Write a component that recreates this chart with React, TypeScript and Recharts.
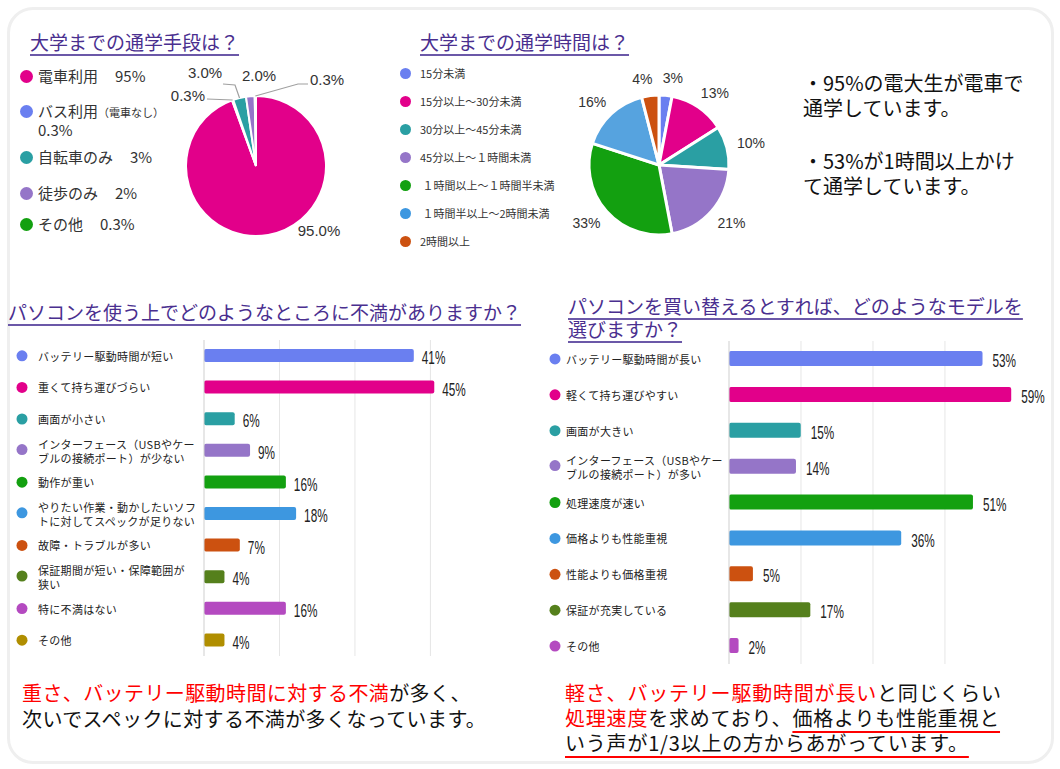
import React from "react";
import {
  PieChart,
  Pie,
  Cell,
  BarChart,
  Bar,
  XAxis,
  YAxis,
  CartesianGrid,
  LabelList,
} from "recharts";

const JP = '"Noto Sans CJK JP", "Noto Sans", sans-serif';
const NUM = '"Liberation Sans", Arial, "Noto Sans CJK JP", sans-serif';

const BLUE = "#6a7ff0";
const MAGENTA = "#e2008a";
const TEAL = "#2a9fa3";
const PURPLE = "#9575c8";
const GREEN = "#13a010";
const SKY = "#3d97e0";
const ORANGE = "#cc5110";
const OLIVE = "#55801c";
const VIOLET = "#b44ac0";
const GOLD = "#b08e00";

// 通学手段
const modeNames = ["電車利用", "バス利用", "自転車のみ", "徒歩のみ", "その他"];
const modeShares = [95, 0.3, 3, 2, 0.3];
const modeLegendValues = ["95%", "0.3%", "3%", "2%", "0.3%"];
const modeColors = [MAGENTA, BLUE, TEAL, PURPLE, GREEN];

// 通学時間
const timeNames = [
  "15分未満",
  "15分以上～30分未満",
  "30分以上～45分未満",
  "45分以上～１時間未満",
  " １時間以上～１時間半未満",
  " １時間半以上～2時間未満",
  "2時間以上",
];
const timeShares = [3, 13, 10, 21, 33, 16, 4];
const timeColors = [BLUE, MAGENTA, TEAL, PURPLE, GREEN, "#56a3df", ORANGE];
const timeDotColors = [BLUE, MAGENTA, TEAL, PURPLE, GREEN, SKY, ORANGE];

// 不満
const complaintNames = [
  "バッテリー駆動時間が短い",
  "重くて持ち運びづらい",
  "画面が小さい",
  "インターフェース（USBやケー\nブルの接続ポート）が少ない",
  "動作が重い",
  "やりたい作業・動かしたいソフ\nトに対してスペックが足りない",
  "故障・トラブルが多い",
  "保証期間が短い・保障範囲が\n狭い",
  "特に不満はない",
  "その他",
];
const complaintShares = [41, 45, 6, 9, 16, 18, 7, 4, 16, 4];
const complaintColors = [BLUE, MAGENTA, TEAL, PURPLE, GREEN, SKY, ORANGE, OLIVE, VIOLET, GOLD];
const complaintGrid = [14.75, 29.5, 44.25];

// 買い替えモデル
const wishNames = [
  "バッテリー駆動時間が長い",
  "軽くて持ち運びやすい",
  "画面が大きい",
  "インターフェース（USBやケー\nブルの接続ポート）が多い",
  "処理速度が速い",
  "価格よりも性能重視",
  "性能よりも価格重視",
  "保証が充実している",
  "その他",
];
const wishShares = [53, 59, 15, 14, 51, 36, 5, 17, 2];
const wishColors = [BLUE, MAGENTA, TEAL, PURPLE, GREEN, SKY, ORANGE, OLIVE, VIOLET];
const wishGrid = [15.05, 30.1, 45.15];

const modeData = modeNames.map((name, i) => ({ name, value: modeShares[i] }));
const timeData = timeNames.map((name, i) => ({ name, value: timeShares[i] }));
const complaintData = complaintNames.map((name, i) => ({ name, value: complaintShares[i] }));
const wishData = wishNames.map((name, i) => ({ name, value: wishShares[i] }));

const RAD = Math.PI / 180;
const NO_MARGIN = { top: 0, right: 0, bottom: 0, left: 0 };

// only draw grid lines at the given values (no line at the plot's right edge)
const gridAt = (values: number[]) => (props: any) => {
  const scale = props?.xAxis?.scale;
  if (!scale) return [];
  const f = typeof scale === "function" ? scale : (v: number) => scale.map(v);
  return values.map((v) => f(v));
};

// label spots for the commute-mode pie, relative to the pie centre
const modeLabelSpots: any[] = [
  { tx: 63, ty: 64, anchor: "middle", path: null },
  { tx: -51, ty: -71, anchor: "end", path: [[-49, -67]] },
  { tx: -51, ty: -94, anchor: "middle", path: [[-21, -81], [-33, -82]] },
  { tx: 3, ty: -91, anchor: "middle", path: null },
  { tx: 54, ty: -87, anchor: "start", path: [[42, -82], [52, -82]] },
];

const renderModeLabel = (p: any) => {
  const { cx, cy, midAngle, outerRadius, index, value } = p;
  const spot = modeLabelSpots[index];
  const a = -midAngle * RAD;
  const ex = cx + outerRadius * Math.cos(a);
  const ey = cy + outerRadius * Math.sin(a);
  return (
    <g key={`ml-${index}`}>
      {spot.path && (
        <polyline
          points={[[ex - cx, ey - cy], ...spot.path].map(([x, y]: number[]) => `${cx + x},${cy + y}`).join(" ")}
          fill="none"
          stroke="#a0a0a0"
          strokeWidth={1.2}
        />
      )}
      <text
        x={cx + spot.tx}
        y={cy + spot.ty}
        textAnchor={spot.anchor}
        dominantBaseline="central"
        fontFamily={NUM}
        fontSize={15}
        fill="#333"
      >
        {value.toFixed(1)}%
      </text>
    </g>
  );
};

const renderTimeLabel = (p: any) => {
  const { cx, cy, midAngle, outerRadius, index, value } = p;
  const a = -midAngle * RAD;
  const c = Math.cos(a);
  const s = Math.sin(a);
  const text = `${value}%`;
  const w = text.length * 8.5;
  const h = 10;
  const r = outerRadius + 12;
  const x = cx + r * c + (c * w) / 2 + Math.sign(c) * 6 * (1 - Math.abs(c));
  const y = cy + r * s + (s * h) / 2;
  return (
    <text
      key={`tl-${index}`}
      x={x}
      y={y}
      textAnchor="middle"
      dominantBaseline="central"
      fontFamily={NUM}
      fontSize={14}
      fill="#333"
    >
      {text}
    </text>
  );
};

const makeTick = (names: string[], colors: string[], dotX: number, textX: number) => (props: any) => {
  const { y, payload } = props;
  const idx = names.indexOf(payload.value);
  const lines = String(payload.value).split("\n");
  const two = lines.length > 1;
  return (
    <g>
      <circle cx={dotX} cy={two ? y - 1 : y} r={5.5} fill={colors[idx]} />
      {lines.map((ln, i) => (
        <text
          key={i}
          x={textX}
          y={two ? y - 7 + i * 14 : y}
          dominantBaseline="central"
          fontFamily={JP}
          fontSize={11}
          letterSpacing={0.3}
          fill="#222"
        >
          {ln}
        </text>
      ))}
    </g>
  );
};

// narrow, tall percentage labels
const valueLabel = (gap: number) => (props: any) => {
  const { x, y, width, height, value } = props;
  return (
    <text
      transform={`translate(${x + width + gap},${y + height / 2 + 2}) scale(0.62,1)`}
      dominantBaseline="central"
      fontFamily={NUM}
      fontSize={19}
      fill="#222"
    >
      {value}%
    </text>
  );
};

const titleStyle: React.CSSProperties = {
  position: "absolute",
  fontFamily: JP,
  fontSize: 19,
  lineHeight: "23px",
  color: "#4a2f8f",
  textDecoration: "underline",
  textDecorationColor: "#6b58a8",
  textDecorationThickness: "1.5px",
  textUnderlineOffset: "4px",
  whiteSpace: "nowrap",
};

const abs = (left: number, top: number): React.CSSProperties => ({ position: "absolute", left, top });

const Dot = ({ x, y, size, color }: { x: number; y: number; size: number; color: string }) => (
  <div
    style={{
      position: "absolute",
      left: x - size / 2,
      top: y - size / 2,
      width: size,
      height: size,
      borderRadius: "50%",
      background: color,
    }}
  />
);

const RED = "#ff0000";
const redLine: React.CSSProperties = {
  textDecoration: "underline",
  textDecorationColor: RED,
  textDecorationThickness: "2px",
  textUnderlineOffset: "5px",
};

const modeLegendY = [76, 111, 157, 193, 224];
const legendText: React.CSSProperties = {
  fontFamily: JP,
  fontSize: 15,
  lineHeight: "16px",
  color: "#333",
  whiteSpace: "nowrap",
};

export default function App() {
  return (
    <div style={{ position: "absolute", left: 0, top: 0, width: 1060, height: 769, background: "#fff", overflow: "hidden" }}>
      <div
        style={{
          position: "absolute",
          left: 7,
          top: 7,
          width: 1047,
          height: 757,
          border: "3px solid #efefef",
          borderRadius: 26,
          boxSizing: "border-box",
        }}
      />

      {/* 通学手段 */}
      <div style={{ ...titleStyle, left: 30, top: 30 }}>大学までの通学手段は？</div>
      {modeNames.map((n, i) => (
        <React.Fragment key={n}>
          <Dot x={26} y={modeLegendY[i]} size={13} color={modeColors[i]} />
          {i === 1 ? (
            <>
              <div style={{ ...abs(38, modeLegendY[i] - 8), ...legendText }}>
                {n}
                <span style={{ fontSize: 11 }}>（電車なし）</span>
              </div>
              <div style={{ ...abs(38, 130 - 8), ...legendText }}>{modeLegendValues[i]}</div>
            </>
          ) : (
            <div style={{ ...abs(38, modeLegendY[i] - 8), ...legendText }}>
              {n}
              <span style={{ marginLeft: 17 }}>{modeLegendValues[i]}</span>
            </div>
          )}
        </React.Fragment>
      ))}
      <div style={abs(150, 60)}>
        <PieChart width={230} height={210} margin={NO_MARGIN}>
          <Pie
            data={modeData}
            dataKey="value"
            cx={106}
            cy={106}
            outerRadius={70}
            startAngle={90}
            endAngle={-270}
            stroke="#fff"
            strokeWidth={2}
            label={renderModeLabel}
            labelLine={false}
            isAnimationActive={false}
          >
            {modeData.map((d, i) => (
              <Cell key={d.name} fill={modeColors[i]} />
            ))}
          </Pie>
        </PieChart>
      </div>

      {/* 通学時間 */}
      <div style={{ ...titleStyle, left: 420, top: 30 }}>大学までの通学時間は？</div>
      {timeNames.map((n, i) => (
        <React.Fragment key={n}>
          <Dot x={405} y={73 + 28 * i} size={11} color={timeDotColors[i]} />
          <div style={{ ...abs(420, 73 + 28 * i - 8), fontFamily: JP, fontSize: 11, lineHeight: "16px", color: "#333", whiteSpace: "pre" }}>
            {n}
          </div>
        </React.Fragment>
      ))}
      <div style={abs(549, 55)}>
        <PieChart width={230} height={220} margin={NO_MARGIN}>
          <Pie
            data={timeData}
            dataKey="value"
            cx={110}
            cy={110}
            outerRadius={70}
            startAngle={90}
            endAngle={-270}
            stroke="#fff"
            strokeWidth={3}
            label={renderTimeLabel}
            labelLine={false}
            isAnimationActive={false}
          >
            {timeData.map((d, i) => (
              <Cell key={d.name} fill={timeColors[i]} />
            ))}
          </Pie>
        </PieChart>
      </div>

      {/* まとめ（右上） */}
      <div style={{ ...abs(803, 70), fontFamily: JP, fontSize: 20, lineHeight: "25px", color: "#111", whiteSpace: "nowrap" }}>
        ・95%の電大生が電車で
        <br />
        通学しています。
      </div>
      <div style={{ ...abs(803, 148), fontFamily: JP, fontSize: 20, lineHeight: "25px", color: "#111", whiteSpace: "nowrap" }}>
        ・53%が1時間以上かけ
        <br />
        て通学しています。
      </div>

      {/* 不満 */}
      <div style={{ ...titleStyle, left: 8, top: 300 }}>パソコンを使う上でどのようなところに不満がありますか？</div>
      <div style={abs(8, 336)}>
        <BarChart
          width={520}
          height={324}
          data={complaintData}
          layout="vertical"
          margin={{ top: 4, right: 40, bottom: 4, left: 0 }}
        >
          <CartesianGrid
            horizontal={false}
            stroke="#e6e6e6"
            verticalCoordinatesGenerator={gridAt(complaintGrid)}
          />
          <XAxis
            type="number"
            domain={[0, 55.5]}
            ticks={complaintGrid}
            allowDataOverflow
            tick={false}
            axisLine={false}
            tickLine={false}
            height={0}
          />
          <YAxis
            type="category"
            dataKey="name"
            width={196}
            interval={0}
            axisLine={{ stroke: "#cfcfcf" }}
            tickLine={false}
            tick={makeTick(complaintNames, complaintColors, 14, 30)}
          />
          <Bar dataKey="value" barSize={13} radius={2} isAnimationActive={false}>
            {complaintData.map((d, i) => (
              <Cell key={d.name} fill={complaintColors[i]} />
            ))}
            <LabelList dataKey="value" content={valueLabel(8)} />
          </Bar>
        </BarChart>
      </div>

      {/* 買い替え */}
      <div style={{ ...titleStyle, left: 568, top: 294 }}>
        パソコンを買い替えるとすれば、どのようなモデルを
        <br />
        選びますか？
      </div>
      <div style={abs(540, 337)}>
        <BarChart
          width={510}
          height={331}
          data={wishData}
          layout="vertical"
          margin={{ top: 4, right: 34, bottom: 4, left: 0 }}
        >
          <CartesianGrid
            horizontal={false}
            stroke="#e6e6e6"
            verticalCoordinatesGenerator={gridAt(wishGrid)}
          />
          <XAxis
            type="number"
            domain={[0, 60]}
            ticks={wishGrid}
            allowDataOverflow
            tick={false}
            axisLine={false}
            tickLine={false}
            height={0}
          />
          <YAxis
            type="category"
            dataKey="name"
            width={189}
            interval={0}
            axisLine={{ stroke: "#cfcfcf" }}
            tickLine={false}
            tick={makeTick(wishNames, wishColors, 15, 26)}
          />
          <Bar dataKey="value" barSize={15} radius={2} isAnimationActive={false}>
            {wishData.map((d, i) => (
              <Cell key={d.name} fill={wishColors[i]} />
            ))}
            <LabelList dataKey="value" content={valueLabel(10)} />
          </Bar>
        </BarChart>
      </div>

      {/* まとめ（下） */}
      <div style={{ ...abs(22, 680), fontFamily: JP, fontSize: 20, lineHeight: "26px", letterSpacing: 0.4, color: "#111", whiteSpace: "nowrap" }}>
        <span style={{ color: RED }}>重さ、バッテリー駆動時間に対する不満</span>が多く、
        <br />
        次いでスペックに対する不満が多くなっています。
      </div>
      <div style={{ ...abs(565, 680), fontFamily: JP, fontSize: 20, lineHeight: "25px", letterSpacing: 0.8, color: "#111", whiteSpace: "nowrap" }}>
        <span style={{ color: RED }}>軽さ、バッテリー駆動時間が長い</span>と同じくらい
        <br />
        <span style={{ color: RED }}>処理速度</span>を求めており、<span style={redLine}>価格よりも性能重視と</span>
        <br />
        <span style={redLine}>いう声が1/3以上の方からあがっています。</span>
      </div>
    </div>
  );
}
